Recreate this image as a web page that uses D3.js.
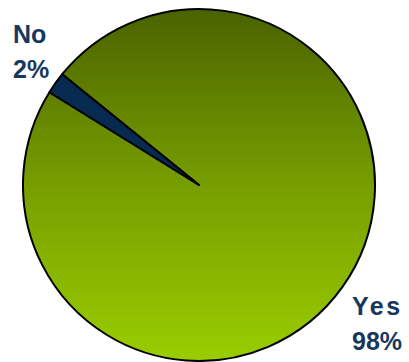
<!DOCTYPE html>
<html>
<head>
<meta charset="utf-8">
<script src="https://d3js.org/d3.v7.min.js"></script>
<style>
  body { margin: 0; background: #fff; }
</style>
</head>
<body>
<div id="chart"></div>
<script>
// data
var categories = ["Yes", "No"];
var values = [98, 2];
var labels = ["98%", "2%"];

var width = 409, height = 362,
  cx = 199, cy = 185,
  radius = 176;

var svg = d3.select("#chart").append("svg")
  .attr("width", width)
  .attr("height", height);

// vertical olive -> lime gradient for the big slice
// (coords are in the translated group space, so centred on 0)
var defs = svg.append("defs");
var grad = defs.append("linearGradient")
  .attr("id", "yesGrad")
  .attr("gradientUnits", "userSpaceOnUse")
  .attr("x1", 0).attr("y1", -radius)
  .attr("x2", 0).attr("y2", radius);
grad.append("stop").attr("offset", "0%").attr("stop-color", "#4a6300");
grad.append("stop").attr("offset", "50%").attr("stop-color", "#779e00");
grad.append("stop").attr("offset", "100%").attr("stop-color", "#9acd00");

var colors = { "Yes": "url(#yesGrad)", "No": "#062a50" };

var startDeg = -51;
var pie = d3.pie()
  .sort(null)
  .value(function (d, i) { return values[i]; })
  .startAngle(startDeg * Math.PI / 180)
  .endAngle((startDeg + 360) * Math.PI / 180);

var arc = d3.arc().innerRadius(0).outerRadius(radius);

var g = svg.append("g").attr("transform", "translate(" + cx + "," + cy + ")");

g.selectAll("path")
  .data(pie(categories)).enter().append("path")
  .attr("d", arc)
  .attr("fill", function (d) { return colors[d.data]; })
  .attr("stroke", "#000")
  .attr("stroke-width", 2)
  .attr("stroke-linejoin", "round");

// labels
var labelPos = {
  "No": { x: 13, y: 43, spacing: 0 },
  "Yes": { x: 352, y: 315, spacing: 2.5 }
};

categories.forEach(function (c, i) {
  var t = svg.append("text")
    .attr("x", labelPos[c].x)
    .attr("y", labelPos[c].y)
    .attr("font-family", "Liberation Sans, Arial, sans-serif")
    .attr("font-weight", "bold")
    .attr("font-size", "25px")
    .attr("fill", "#17375e");
  t.append("tspan")
    .attr("x", labelPos[c].x)
    .attr("letter-spacing", labelPos[c].spacing)
    .text(c);
  t.append("tspan")
    .attr("x", labelPos[c].x)
    .attr("dy", 35)
    .text(labels[i]);
});
</script>
</body>
</html>
